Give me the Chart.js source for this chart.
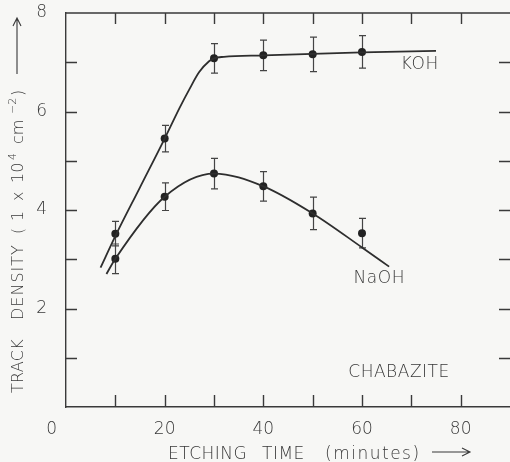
<!DOCTYPE html>
<html>
<head>
<meta charset="utf-8">
<script src="https://cdn.jsdelivr.net/npm/chart.js@4/dist/chart.umd.min.js"></script>
<style>
  html, body { margin: 0; padding: 0; overflow: hidden; background: #f7f7f5; }
  #wrap { width: 514px; height: 462px; }
</style>
</head>
<body>
<div id="wrap"><canvas id="chart" width="514" height="462"></canvas></div>
<script>
// measured points (etching time in minutes, track density in 1e4 cm^-2)
const times = [10, 20, 30, 40, 50, 60]
const kohDensity = [3.52, 5.45, 7.08, 7.14, 7.16, 7.21]
const kohError = [0.25, 0.27, 0.30, 0.31, 0.35, 0.33]
const naohDensity = [3.01, 4.27, 4.74, 4.48, 3.93, 3.53]
const naohError = [0.30, 0.28, 0.31, 0.30, 0.33, 0.30]

// hand drawn fit curves
const kohCurveX = [7, 10, 15, 20, 23, 25, 27, 29, 30, 32, 40, 50, 60, 75]
const kohCurveY = [2.83, 3.47, 4.46, 5.45, 6.07, 6.45, 6.80, 7.02, 7.08, 7.11, 7.14, 7.17, 7.20, 7.23]
const naohCurveX = [8.2, 10, 20, 30, 40, 50, 60, 65.5]
const naohCurveY = [2.70, 3.01, 4.27, 4.74, 4.48, 3.93, 3.24, 2.85]

const xTickLabels = [20, 40, 60, 80]
const yTickLabels = [2, 4, 6, 8]

const FONT = 'DejaVu Sans'
const WEIGHT = '200'
const TEXT = '#383838'
const INK = '#2e2e2e'

const pts = (xs, ys) => xs.map((x, i) => ({ x, y: ys[i] }))

const errorBars = {
  KOH: kohError,
  NaOH: naohError
}

// stop the scales from adding their own label padding to the chart area
const noPad = s => {
  s.paddingTop = 0
  s.paddingBottom = 0
  s.paddingLeft = 0
  s.paddingRight = 0
}

// pieces of a title: [text, font size, raise, start offset along the line, letter spacing]
function drawPieces(ctx, pieces, y0) {
  pieces.forEach(([txt, size, raise, at, ls]) => {
    ctx.font = `${WEIGHT} ${size}px "${FONT}"`
    ctx.letterSpacing = ls + 'px'
    ctx.fillText(txt, at, y0 - raise)
  })
}

const decorations = {
  id: 'decorations',
  beforeDatasetsDraw(chart) {
    const { ctx, chartArea: a, scales: { x, y } } = chart
    ctx.save()
    ctx.strokeStyle = '#3a3a3a'
    ctx.lineWidth = 1.4
    ctx.beginPath()
    ctx.moveTo(a.left, a.top)
    ctx.lineTo(a.right, a.top)
    x.ticks.forEach(t => {
      if (t.value <= x.min || t.value >= x.max) return
      const px = Math.round(x.getPixelForValue(t.value)) + 0.5
      ctx.moveTo(px, a.bottom)
      ctx.lineTo(px, a.bottom - 12)
      ctx.moveTo(px, a.top)
      ctx.lineTo(px, a.top + 11)
    })
    y.ticks.forEach(t => {
      if (t.value <= y.min || t.value >= y.max) return
      const py = Math.round(y.getPixelForValue(t.value)) + 0.5
      ctx.moveTo(a.left, py)
      ctx.lineTo(a.left + 11, py)
      ctx.moveTo(a.right, py)
      ctx.lineTo(a.right - 11, py)
    })
    ctx.stroke()

    // error bars
    ctx.strokeStyle = '#444'
    ctx.lineWidth = 1.2
    ctx.beginPath()
    chart.data.datasets.forEach(ds => {
      const errs = errorBars[ds.label]
      if (!errs) return
      ds.data.forEach((p, i) => {
        const px = Math.round(x.getPixelForValue(p.x)) + 0.5
        const top = y.getPixelForValue(p.y + errs[i])
        const bot = y.getPixelForValue(p.y - errs[i])
        ctx.moveTo(px, top); ctx.lineTo(px, bot)
        ctx.moveTo(px - 3.5, top); ctx.lineTo(px + 3.5, top)
        ctx.moveTo(px - 3.5, bot); ctx.lineTo(px + 3.5, bot)
      })
    })
    ctx.stroke()
    ctx.restore()
  },
  afterDraw(chart) {
    const { ctx, chartArea: a, scales: { x, y } } = chart
    ctx.save()
    ctx.fillStyle = TEXT
    ctx.strokeStyle = TEXT
    ctx.font = `${WEIGHT} 17px "${FONT}"`
    ctx.textAlign = 'center'
    ctx.textBaseline = 'middle'
    ctx.letterSpacing = '0.5px'

    ctx.fillText('KOH', x.getPixelForValue(71.7), y.getPixelForValue(6.96))
    ctx.fillText('NaOH', x.getPixelForValue(63.5), y.getPixelForValue(2.6))
    ctx.fillText('CHABAZITE', x.getPixelForValue(67.5), y.getPixelForValue(0.69))
    ctx.fillText('0', a.left - 14, a.bottom + 23)

    // x title
    ctx.textAlign = 'left'
    ctx.textBaseline = 'alphabetic'
    drawPieces(ctx, [
      ['ETCHING', 17, 0, 168, 0.5],
      ['TIME', 17, 0, 262, 0.5],
      ['(minutes)', 17, 0, 325, 1.5]
    ], 459)
    ctx.lineWidth = 1.1
    ctx.beginPath()
    ctx.moveTo(432, 452); ctx.lineTo(470, 452)
    ctx.moveTo(462, 448); ctx.lineTo(470, 452); ctx.lineTo(462, 456)
    ctx.stroke()

    // y title, rotated, with raised exponents
    ctx.translate(17, 0)
    ctx.rotate(-Math.PI / 2)
    drawPieces(ctx, [
      ['TRACK', 16, 0, -393, 0.3],
      ['DENSITY', 16, 0, -320, 1],
      ['(', 16, 0, -234, 0],
      ['1', 16, 0, -221, 0],
      ['x', 16, 0, -201, 0],
      ['10', 16, 0, -183, 0],
      ['4', 11, 7, -160, 0],
      ['cm', 16, 0, -144, 0],
      ['\u22122', 11, 7, -114, 0],
      [')', 16, 0, -96, 0]
    ], 6)
    ctx.beginPath()
    ctx.moveTo(-74, 0); ctx.lineTo(-18, 0)
    ctx.moveTo(-26, -4); ctx.lineTo(-18, 0); ctx.lineTo(-26, 4)
    ctx.stroke()
    ctx.restore()
  }
}

new Chart(document.getElementById('chart'), {
  type: 'scatter',
  data: {
    datasets: [
      {
        label: 'KOH fit',
        data: pts(kohCurveX, kohCurveY),
        showLine: true,
        borderColor: INK,
        borderWidth: 1.8,
        pointRadius: 0,
        cubicInterpolationMode: 'monotone'
      },
      {
        label: 'NaOH fit',
        data: pts(naohCurveX, naohCurveY),
        showLine: true,
        borderColor: INK,
        borderWidth: 1.8,
        pointRadius: 0,
        cubicInterpolationMode: 'monotone'
      },
      {
        label: 'KOH',
        data: pts(times, kohDensity),
        pointRadius: 4,
        pointBackgroundColor: '#222',
        pointBorderColor: '#222',
        pointBorderWidth: 0
      },
      {
        label: 'NaOH',
        data: pts(times, naohDensity),
        pointRadius: 4,
        pointBackgroundColor: '#222',
        pointBorderColor: '#222',
        pointBorderWidth: 0
      }
    ]
  },
  options: {
    responsive: false,
    animation: false,
    layout: { padding: { top: 13, right: 0, left: 0, bottom: 0 } },
    plugins: {
      legend: { display: false },
      tooltip: { enabled: false }
    },
    scales: {
      x: {
        type: 'linear',
        min: 0,
        max: 90,
        afterFit: s => { s.height = 55; noPad(s) },
        grid: { display: false },
        border: { display: true, color: '#3a3a3a', width: 1.4 },
        ticks: {
          stepSize: 10,
          padding: 4,
          autoSkip: false,
          maxRotation: 0,
          color: TEXT,
          font: { family: FONT, size: 17, weight: WEIGHT },
          callback: v => xTickLabels.includes(v) ? String(v) : ''
        }
      },
      y: {
        type: 'linear',
        min: 0,
        max: 8,
        afterFit: s => { s.width = 66; noPad(s) },
        grid: { display: false },
        border: { display: true, color: '#3a3a3a', width: 1.4 },
        ticks: {
          stepSize: 1,
          padding: 11,
          autoSkip: false,
          color: TEXT,
          font: { family: FONT, size: 17, weight: WEIGHT },
          callback: v => yTickLabels.includes(v) ? String(v) : ''
        }
      }
    }
  },
  plugins: [decorations]
})
</script>
</body>
</html>
